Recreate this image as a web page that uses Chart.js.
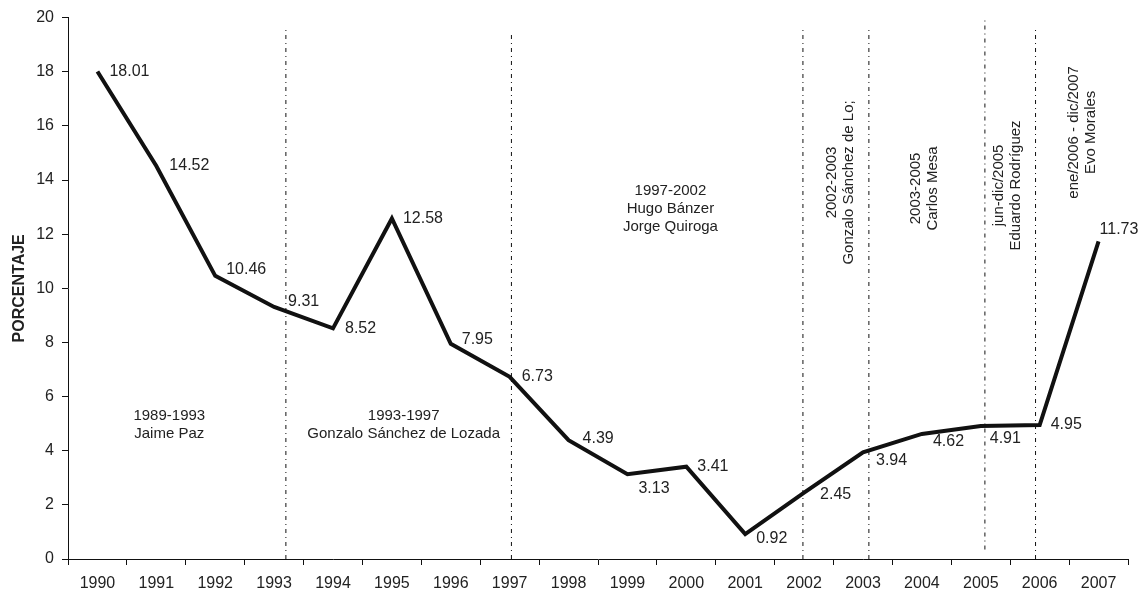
<!DOCTYPE html>
<html>
<head>
<meta charset="utf-8">
<script src="https://cdn.jsdelivr.net/npm/chart.js@4"></script>
<style>
  html, body { margin: 0; padding: 0; background: #fff; }
  #wrap { width: 1143px; height: 592px; }
</style>
</head>
<body>
<div id="wrap"><canvas id="chart"></canvas></div>
<script>
/**
 * Data
 */
const years = ['1990', '1991', '1992', '1993', '1994', '1995', '1996', '1997', '1998',
    '1999', '2000', '2001', '2002', '2003', '2004', '2005', '2006', '2007'];
const porcentaje = [18.01, 14.52, 10.46, 9.31, 8.52, 12.58, 7.95, 6.73, 4.39,
    3.13, 3.41, 0.92, 2.45, 3.94, 4.62, 4.91, 4.95, 11.73];
const yTicks = [0, 2, 4, 6, 8, 10, 12, 14, 16, 18, 20];

// government changes, as a position on the year index (0 = 1990)
const changeAt = [3.2, 7.03, 11.98, 13.1, 15.07, 15.93];
const changeTop = [19.6, 19.5, 19.6, 19.6, 19.9, 19.6];
const changeBottom = [0, 0, 0, 0, 0.35, 0];

const eraTexts = [
    ['1989-1993', 'Jaime Paz'],
    ['1993-1997', 'Gonzalo Sánchez de Lozada'],
    ['1997-2002', 'Hugo Bánzer', 'Jorge Quiroga'],
    ['2002-2003', 'Gonzalo Sánchez de Lo;'],
    ['2003-2005', 'Carlos Mesa'],
    ['jun-dic/2005', 'Eduardo Rodríguez'],
    ['ene/2006 - dic/2007', 'Evo Morales']
];

/**
 * Layout of the annotations (index position, value, rotated)
 */
const eraPlace = [
    { x: 1.22, y: 4.94, rot: false },
    { x: 5.2, y: 4.94, rot: false },
    { x: 9.73, y: 12.92, rot: false },
    { x: 12.62, y: 13.91, rot: true },
    { x: 14.04, y: 13.69, rot: true },
    { x: 15.45, y: 13.8, rot: true },
    { x: 16.73, y: 15.76, rot: true }
];

// pixel offsets of the value labels from their points
const labelOffsets = [
    [12, 0], [13, 0], [11, -6], [14, -5], [12, 0], [11, 0], [11, -4], [12, 0], [14, -2],
    [11, 14], [11, 0], [11, 4], [16, 2], [13, 8], [11, 8], [9, 13], [11, 0], [1, -12]
];

const FONT = '"Liberation Sans", Arial, sans-serif';
const TEXT = '#222';

const changeSets = changeAt.map((x, i) => ({
    type: 'line',
    xAxisID: 'xl',
    data: [{ x, y: changeBottom[i] }, { x, y: changeTop[i] }],
    borderColor: '#111',
    borderWidth: 1,
    borderDash: [4, 4, 1, 4],
    pointRadius: 0,
    fill: false
}));

const annotations = {
    id: 'annotations',
    afterDatasetsDraw(chart) {
        const { ctx } = chart;
        const xl = chart.scales.xl;
        const y = chart.scales.y;

        ctx.save();
        ctx.fillStyle = TEXT;

        // value labels
        ctx.font = '16px ' + FONT;
        ctx.textAlign = 'left';
        ctx.textBaseline = 'middle';
        chart.getDatasetMeta(0).data.forEach((pt, i) => {
            const [dx, dy] = labelOffsets[i];
            ctx.fillText(porcentaje[i].toFixed(2), pt.x + dx, pt.y + dy);
        });

        // government periods
        ctx.font = '15px ' + FONT;
        ctx.textAlign = 'center';
        eraTexts.forEach((lines, i) => {
            const p = eraPlace[i];
            const px = xl.getPixelForValue(p.x);
            const py = y.getPixelForValue(p.y);
            const lh = p.rot ? 17 : 18;
            const start = -(lines.length - 1) * lh / 2;
            ctx.save();
            ctx.translate(px, py);
            if (p.rot) {
                ctx.rotate(-Math.PI / 2);
            }
            lines.forEach((t, k) => ctx.fillText(t, 0, start + k * lh));
            ctx.restore();
        });

        ctx.restore();
    }
};

new Chart(document.getElementById('chart'), {
    type: 'line',
    data: {
        labels: years,
        datasets: [{
            data: porcentaje,
            borderColor: '#111',
            borderWidth: 4,
            pointRadius: 0,
            tension: 0,
            fill: false
        }, ...changeSets]
    },
    options: {
        responsive: true,
        maintainAspectRatio: false,
        animation: false,
        events: [],
        layout: { padding: { top: 17, right: 15, left: 0, bottom: 0 } },
        plugins: {
            legend: { display: false },
            tooltip: { enabled: false }
        },
        scales: {
            x: {
                type: 'category',
                offset: true,
                grid: {
                    offset: true,
                    drawOnChartArea: false,
                    drawTicks: true,
                    tickLength: 6,
                    color: '#111'
                },
                border: { display: true, color: '#111', width: 1 },
                ticks: {
                    color: TEXT,
                    font: { family: FONT, size: 16 },
                    padding: 9,
                    maxRotation: 0,
                    autoSkip: false
                },
                afterFit(scale) { scale.height = 33; }
            },
            xl: {
                type: 'linear',
                display: false,
                min: -0.5,
                max: 17.5
            },
            y: {
                min: 0,
                max: 20,
                afterBuildTicks(scale) { scale.ticks = yTicks.map(v => ({ value: v })); },
                grid: {
                    drawOnChartArea: false,
                    drawTicks: true,
                    tickLength: 6,
                    color: '#111'
                },
                border: { display: true, color: '#111', width: 1 },
                ticks: {
                    color: TEXT,
                    font: { family: FONT, size: 16 },
                    padding: 8
                },
                title: {
                    display: true,
                    text: 'PORCENTAJE',
                    color: TEXT,
                    font: { family: FONT, size: 16, weight: 'bold' },
                    padding: { top: 10, bottom: 4 }
                },
                afterFit(scale) { scale.width = 68; }
            }
        }
    },
    plugins: [annotations]
});
</script>
</body>
</html>
